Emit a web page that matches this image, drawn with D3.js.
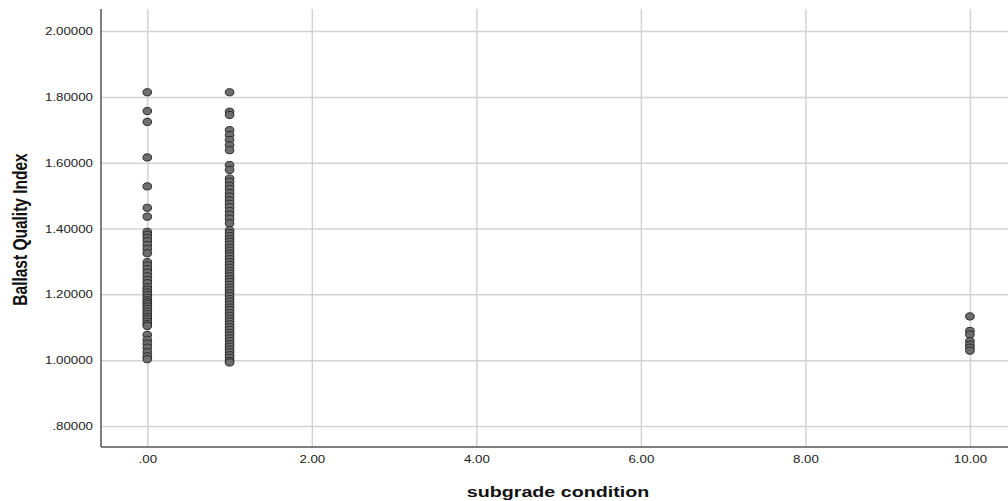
<!DOCTYPE html>
<html>
<head>
<meta charset="utf-8">
<script src="https://cdn.jsdelivr.net/npm/d3@7"></script>
<style>
  body { margin: 0; background: #fff; }
  svg { display: block; }
</style>
</head>
<body>
<div id="chart"></div>
<script>
const WIDTH  = 1008;
const HEIGHT = 501;
const STRETCH = 1.27;   // the picture is wider than tall, text too

const COLORS = {
  grid:   '#d3d3d3',
  axis:   '#555',
  text:   '#222',
  fill:   '#6e6e6e',
  stroke: '#2a2a2a'
};

// subgrade condition categories and their Ballast Quality Index values
const conditions = [0, 1, 10];
const bqiCond0 = [
  1.814, 1.757, 1.724, 1.616, 1.528, 1.463, 1.436,
  1.390, 1.381, 1.372, 1.362, 1.350, 1.338, 1.325,
  1.298, 1.288, 1.277, 1.266, 1.255, 1.244, 1.234,
  1.222, 1.214, 1.206, 1.198, 1.190, 1.182, 1.176, 1.170, 1.163,
  1.156, 1.148, 1.140, 1.132, 1.125, 1.117, 1.110, 1.104,
  1.077, 1.062, 1.050, 1.038, 1.024, 1.012, 1.003
];
const bqiCond1 = [
  1.814, 1.755, 1.745, 1.699, 1.684, 1.669, 1.653, 1.638, 1.593, 1.578,
  1.552, 1.542, 1.530, 1.520, 1.508, 1.497, 1.486, 1.475, 1.465, 1.453,
  1.442, 1.430, 1.416,
  1.395, 1.386, 1.377, 1.368, 1.360, 1.351, 1.342, 1.333, 1.324, 1.316,
  1.307, 1.298, 1.290, 1.281, 1.272, 1.264, 1.255, 1.246, 1.238, 1.229,
  1.220, 1.212, 1.203, 1.195, 1.186, 1.178, 1.169, 1.160, 1.152, 1.143,
  1.135, 1.126, 1.118, 1.109, 1.100, 1.092, 1.083, 1.075, 1.066, 1.058,
  1.049, 1.041, 1.032, 1.024, 1.015, 1.007, 0.998, 0.993
];
const bqiCond10 = [1.133, 1.089, 1.078, 1.058, 1.047, 1.038, 1.029];

const xTicks = [0, 2, 4, 6, 8, 10];
const yTicks = [0.8, 1.0, 1.2, 1.4, 1.6, 1.8, 2.0];

const xTitle = 'subgrade condition';
const yTitle = 'Ballast Quality Index';

const PLOT = { left: 101, right: 1008, top: 9, bottom: 447 };



var points = [];
[bqiCond0, bqiCond1, bqiCond10].forEach(function(vals, i) {
  for (let v of vals) {
    points.push({ x: conditions[i], y: v });
  }
});

var xScale = d3.scaleLinear()
  .domain([-0.563, 10.463])
  .range([PLOT.left, PLOT.right]);
var yScale = d3.scaleLinear()
  .domain([0.7362, 2.067])
  .range([PLOT.bottom, PLOT.top]);

function dropZero(s) {
  return s.replace(/^0\./, '.');
}

var svg = d3.select('#chart').append('svg')
  .attr('width', WIDTH)
  .attr('height', HEIGHT)
  .style('background-color', '#fff');

// Grid lines (axes with long ticks, labels removed)
svg.append('g')
  .attr('transform', `translate(${PLOT.left},0)`)
  .call(d3.axisLeft(yScale).tickValues(yTicks)
    .tickSize(-(PLOT.right - PLOT.left)).tickFormat(''))
  .call(g => g.select('.domain').remove())
  .selectAll('line')
    .style('stroke', COLORS.grid)
    .style('stroke-width', 1.5);

svg.append('g')
  .attr('transform', `translate(0,${PLOT.bottom})`)
  .call(d3.axisBottom(xScale).tickValues(xTicks)
    .tickSize(-(PLOT.bottom - PLOT.top)).tickFormat(''))
  .call(g => g.select('.domain').remove())
  .selectAll('line')
    .style('stroke', COLORS.grid)
    .style('stroke-width', 1.5);

// Tick labels
var yAxis = svg.append('g')
  .attr('transform', `translate(${PLOT.left},0)`)
  .call(d3.axisLeft(yScale).tickValues(yTicks).tickSize(0)
    .tickFormat(d => dropZero(d3.format('.5f')(d))));
yAxis.select('.domain').remove();
yAxis.selectAll('text')
  .attr('x', -7 / STRETCH - 0.5)
  .attr('dy', '0.35em')
  .attr('transform', `scale(${STRETCH + 0.06},1)`)
  .style('font-family', '"Liberation Sans", Arial, sans-serif')
  .style('font-size', '10px')
  .style('fill', COLORS.text);

var xAxis = svg.append('g')
  .attr('transform', `translate(0,${PLOT.bottom})`)
  .call(d3.axisBottom(xScale).tickValues(xTicks).tickSize(0)
    .tickFormat(d => dropZero(d3.format('.2f')(d))));
xAxis.select('.domain').remove();
xAxis.selectAll('text')
  .attr('y', 16.5)
  .attr('dy', 0)
  .attr('transform', `scale(${STRETCH + 0.06},1)`)
  .style('font-family', '"Liberation Sans", Arial, sans-serif')
  .style('font-size', '10px')
  .style('fill', COLORS.text);

// Axis lines
svg.append('line')
  .attr('x1', PLOT.left).attr('x2', PLOT.left)
  .attr('y1', PLOT.top).attr('y2', PLOT.bottom)
  .style('stroke', COLORS.axis)
  .style('stroke-width', 1.5);
svg.append('line')
  .attr('x1', PLOT.left).attr('x2', PLOT.right)
  .attr('y1', PLOT.bottom).attr('y2', PLOT.bottom)
  .style('stroke', COLORS.axis)
  .style('stroke-width', 1.5);

// Points
svg.append('g')
  .selectAll('ellipse')
    .data(points)
  .enter().append('ellipse')
    .attr('cx', d => xScale(d.x))
    .attr('cy', d => yScale(d.y))
    .attr('rx', 4.3)
    .attr('ry', 3.6)
    .style('fill', COLORS.fill)
    .style('stroke', COLORS.stroke)
    .style('stroke-width', 1);

// Axis titles
svg.append('text')
  .attr('transform', `translate(558,497) scale(${STRETCH},1)`)
  .attr('text-anchor', 'middle')
  .style('font-family', '"Liberation Sans", Arial, sans-serif')
  .style('font-weight', 'bold')
  .style('font-size', '15.5px')
  .style('fill', '#111')
  .text(xTitle);

svg.append('text')
  .attr('transform', `translate(26.5,229.5) scale(${STRETCH},1) rotate(-90)`)
  .attr('text-anchor', 'middle')
  .style('font-family', '"Liberation Sans", Arial, sans-serif')
  .style('font-weight', 'bold')
  .style('font-size', '15.5px')
  .style('fill', '#111')
  .text(yTitle);
</script>
</body>
</html>
